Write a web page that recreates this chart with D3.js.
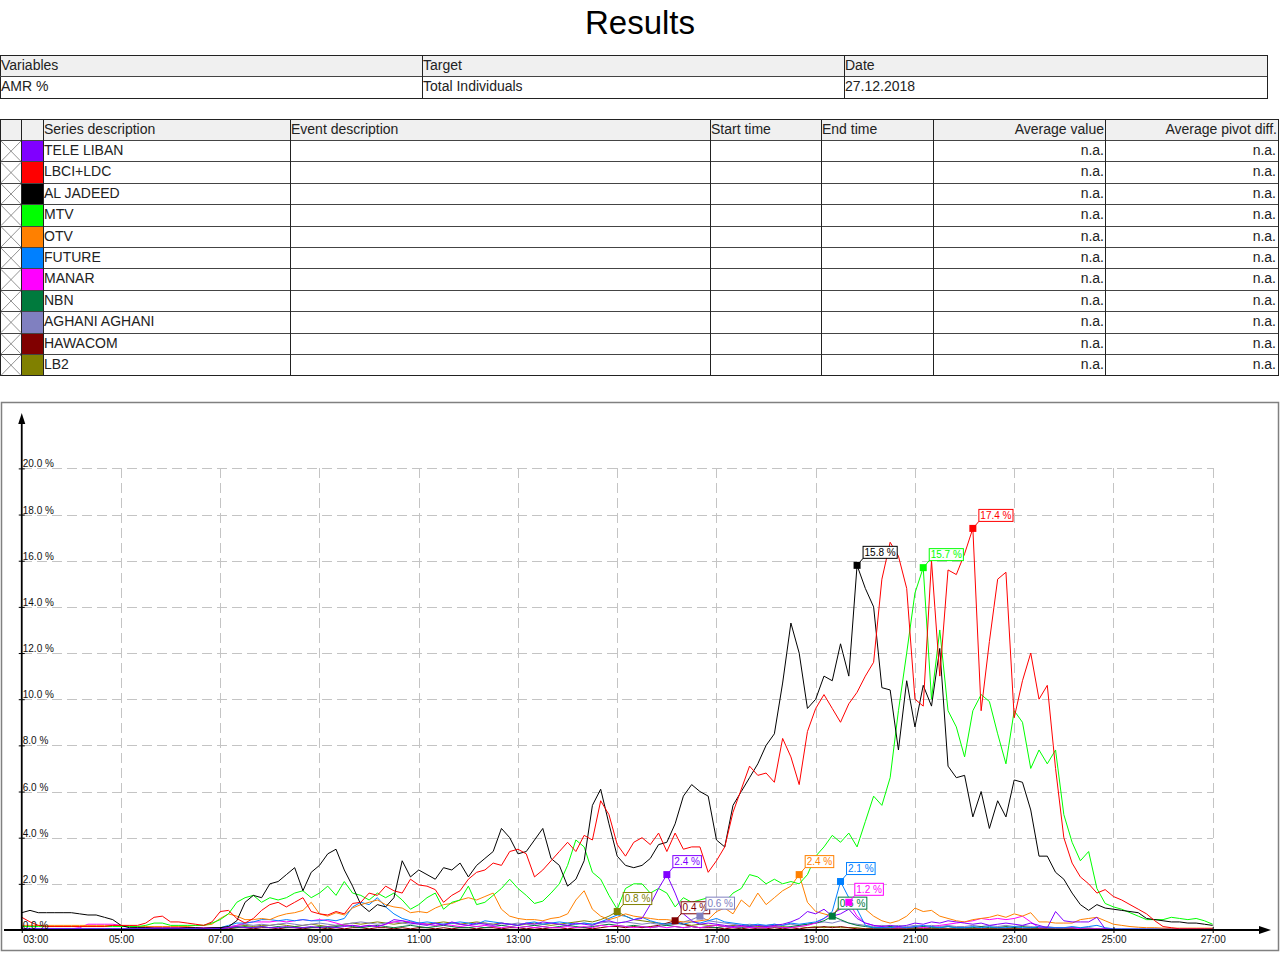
<!DOCTYPE html>
<html><head><meta charset="utf-8">
<script src="https://cdn.jsdelivr.net/npm/d3@7/dist/d3.min.js"></script>
<style>
html,body{margin:0;padding:0;background:#fff;}
svg{display:block;font-family:"Liberation Sans",Arial,sans-serif;}
</style></head><body>
<svg id="chart" width="1280" height="953"></svg>
<script>
// ---------------- DATA ----------------
const title = "Results";
const infoHeader = ["Variables", "Target", "Date"];
const infoRow = ["AMR %", "Total Individuals", "27.12.2018"];
const legendHeader = ["Series description", "Event description", "Start time", "End time", "Average value", "Average pivot diff."];
const seriesNames = ["TELE LIBAN", "LBCI+LDC", "AL JADEED", "MTV", "OTV", "FUTURE", "MANAR", "NBN", "AGHANI AGHANI", "HAWACOM", "LB2"];
const seriesColors = ["#8000ff", "#ff0000", "#000000", "#00ff00", "#ff8000", "#0080ff", "#ff00ff", "#007a3d", "#8080c0", "#800000", "#808000"];
const avgValue = ["n.a.", "n.a.", "n.a.", "n.a.", "n.a.", "n.a.", "n.a.", "n.a.", "n.a.", "n.a.", "n.a."];
const avgPivot = ["n.a.", "n.a.", "n.a.", "n.a.", "n.a.", "n.a.", "n.a.", "n.a.", "n.a.", "n.a.", "n.a."];

const xTickHours = [3, 5, 7, 9, 11, 13, 15, 17, 19, 21, 23, 25, 27];
const xTickLabels = ["03:00", "05:00", "07:00", "09:00", "11:00", "13:00", "15:00", "17:00", "19:00", "21:00", "23:00", "25:00", "27:00"];
const yTicks = [0, 2, 4, 6, 8, 10, 12, 14, 16, 18, 20];
const yTickLabels = ["0.0 %", "2.0 %", "4.0 %", "6.0 %", "8.0 %", "10.0 %", "12.0 %", "14.0 %", "16.0 %", "18.0 %", "20.0 %"];

// values every 10 minutes from 03:00 to 27:00 (AMR %)
const START_HOUR = 3, STEP_MIN = 10;

const teleLiban = [
 0.05,0.05,0.05,0.05,0.05,0.05, 0.05,0.05,0.05,0.05,0.05,0.05, 0.05,0.05,0.05,0.05,0.05,0.05, 0.05,0.05,0.05,0.05,0.05,0.05,
 0.05,0.1,0.15,0.1,0.1,0.15, 0.1,0.1,0.15,0.1,0.1,0.15, 0.1,0.15,0.1,0.15,0.2,0.15, 0.2,0.15,0.25,0.45,0.4,0.3,
 0.25,0.2,0.3,0.2,0.35,0.25, 0.2,0.3,0.25,0.2,0.3,0.25, 0.2,0.3,0.25,0.35,0.3,0.25, 0.2,0.3,0.25,0.2,0.35,0.4,
 0.3,0.35,0.45,0.5,1.1,1.8, 2.4,1.6,0.7,0.4,0.25,0.3, 0.25,0.2,0.15,0.2,0.15,0.2, 0.15,0.2,0.25,0.35,0.5,0.8,
 0.7,0.9,0.6,0.7,0.9,0.5, 0.3,0.2,0.15,0.2,0.15,0.2, 0.3,0.25,0.35,0.3,0.4,0.35, 0.3,0.25,0.3,0.2,0.25,0.3,
 0.25,0.2,0.3,0.2,0.1,0.8, 0.4,0.35,0.35,0.35,0.55,0.05, 0.03,0.03,0.03,0.03,0.03,0.03, 0.03,0.03,0.03,0.03,0.03,0.03,
 0.03];

const lbci = [
 0.55,0.35,0.2,0.15,0.15,0.15, 0.15,0.15,0.15,0.15,0.15,0.2, 0.2,0.2,0.2,0.3,0.55,0.6, 0.35,0.35,0.3,0.25,0.2,0.35,
 0.8,0.85,0.5,0.3,0.5,0.85, 1.1,1.2,1.0,1.2,1.4,0.8, 0.7,0.65,0.8,0.7,1.15,1.2, 1.6,1.5,1.9,1.7,1.6,2.2,
 1.95,1.9,1.75,1.2,1.5,1.7, 2.2,2.5,2.6,2.9,2.8,3.4, 3.5,3.3,2.3,2.6,3.0,3.4, 3.8,3.4,4.1,3.9,5.6,5.0,
 3.7,3.2,3.8,4.0,3.7,4.2, 3.4,4.2,3.5,3.6,3.6,2.5, 3.0,3.6,5.1,6.1,7.1,6.7, 6.8,6.4,8.3,7.5,6.3,8.6,
 9.6,10.2,9.6,9.0,9.8,10.3, 11.0,11.6,15.2,16.8,16.2,14.8, 10.0,9.7,16.0,11.0,15.6,15.4, 16.3,17.4,9.5,12.5,15.2,15.5,
 9.2,10.8,12.0,10.0,10.6,7.0, 4.0,2.9,2.3,2.0,1.6,1.75, 1.45,1.3,1.1,0.9,0.7,0.4, 0.15,0.1,0.05,0.05,0.05,0.05,
 0.05];

const alJadeed = [
 0.75,0.85,0.75,0.75,0.75,0.75, 0.75,0.7,0.65,0.65,0.55,0.45, 0.2,0.1,0.1,0.1,0.08,0.08, 0.08,0.08,0.1,0.1,0.08,0.1,
 0.1,0.15,0.4,1.2,1.5,1.4, 2.0,2.1,2.4,2.7,1.7,2.5, 2.8,3.3,3.5,2.6,1.9,1.1, 0.8,1.1,1.0,1.4,3.0,2.3,
 2.6,2.4,2.2,2.7,2.6,2.9, 2.3,2.8,3.1,3.4,4.4,4.0, 3.3,3.4,3.9,4.4,3.1,2.8, 1.9,2.2,3.0,5.4,6.1,4.6,
 3.2,2.8,2.7,2.8,3.1,3.7, 3.8,4.6,5.8,6.3,6.0,5.8, 3.9,3.6,5.4,6.0,6.6,7.2, 8.0,8.5,10.7,13.3,12.0,9.6,
 10.0,11.0,10.8,12.4,11.0,15.8, 14.8,14.0,10.5,10.4,7.8,10.8, 8.8,10.6,9.7,12.2,7.1,6.6, 6.7,4.9,6.0,4.4,5.6,4.9,
 6.5,6.4,5.2,3.2,3.2,2.5, 2.2,1.6,1.1,0.85,1.1,0.95, 0.9,0.85,0.8,0.75,0.5,0.45, 0.4,0.35,0.35,0.3,0.3,0.25,
 0.2];

const mtv = [
 0.15,0.15,0.15,0.15,0.15,0.15, 0.15,0.15,0.15,0.15,0.15,0.15, 0.15,0.15,0.15,0.2,0.3,0.3, 0.2,0.2,0.2,0.2,0.2,0.3,
 0.45,0.7,1.2,1.4,1.5,1.2, 1.4,1.3,1.4,1.6,1.7,1.4, 1.6,1.9,1.5,2.1,1.6,1.5, 1.3,1.6,1.4,1.6,1.3,0.9,
 1.1,1.4,1.6,0.9,1.2,1.3, 1.9,1.1,1.2,1.5,1.8,2.2, 1.8,1.5,1.15,1.25,1.6,2.0, 2.8,3.9,3.6,2.5,2.2,1.5,
 0.9,1.8,2.0,2.0,1.6,1.8, 1.6,1.0,1.4,1.2,1.3,1.4, 1.3,1.2,1.6,1.8,2.4,2.3, 2.0,2.2,2.0,2.1,2.0,2.4,
 3.2,3.6,4.1,3.8,4.2,3.6, 4.7,5.8,5.4,6.6,9.5,12.0, 14.6,15.7,10.0,13.0,9.5,8.8, 7.5,9.5,10.2,9.9,8.5,7.2,
 9.5,9.0,7.0,7.8,7.2,7.8, 5.0,3.8,3.0,3.4,1.8,1.15, 1.0,0.9,0.75,0.6,0.45,0.45, 0.45,0.55,0.5,0.45,0.5,0.4,
 0.25];

const otv = [
 0.2,0.2,0.2,0.2,0.2,0.2, 0.2,0.2,0.2,0.2,0.2,0.2, 0.18,0.18,0.15,0.15,0.15,0.15, 0.15,0.15,0.15,0.2,0.2,0.25,
 0.5,0.7,0.6,0.45,0.45,0.5, 0.45,0.6,0.7,0.75,0.85,1.2, 0.7,0.6,0.75,0.65,0.95,1.1, 1.2,1.3,1.1,1.0,0.95,0.75,
 0.8,0.75,0.95,1.1,1.15,1.3, 1.4,1.3,1.45,1.6,0.9,0.6, 0.5,0.45,0.45,0.4,0.5,0.55, 0.7,1.3,1.7,0.9,0.6,0.45,
 0.55,0.7,0.6,0.55,0.5,0.45, 0.45,0.4,0.35,0.35,0.4,0.45, 0.8,0.95,0.7,1.3,1.0,1.6, 1.1,1.4,1.7,1.9,2.4,1.2,
 0.8,0.7,0.6,1.1,1.1,1.3, 0.9,0.6,0.4,0.3,0.4,0.6, 0.95,0.8,0.85,0.6,0.5,0.4, 0.35,0.45,0.5,0.55,0.65,0.55,
 0.7,0.6,0.75,0.35,0.35,0.3, 0.3,0.3,0.45,0.5,0.55,0.4, 0.25,0.2,0.15,0.12,0.1,0.1, 0.08,0.08,0.08,0.08,0.08,0.08,
 0.08];

const future = [
 0.05,0.05,0.05,0.05,0.05,0.05, 0.05,0.05,0.05,0.05,0.05,0.05, 0.05,0.05,0.05,0.05,0.05,0.05, 0.05,0.05,0.05,0.05,0.05,0.05,
 0.1,0.2,0.3,0.3,0.35,0.45, 0.45,0.4,0.45,0.4,0.45,0.4, 0.4,0.45,0.4,0.5,1.0,1.2, 1.1,1.4,1.0,0.7,0.5,0.4,
 0.3,0.35,0.3,0.25,0.3,0.35, 0.3,0.25,0.4,0.35,0.3,0.25, 0.2,0.3,0.35,0.25,0.3,0.35, 0.3,0.25,0.3,0.25,0.35,0.5,
 0.65,0.6,0.45,0.55,0.4,0.3, 0.25,0.3,0.25,0.35,0.3,0.4, 0.5,0.35,0.3,0.25,0.2,0.25, 0.2,0.25,0.2,0.3,0.25,0.3,
 0.35,0.5,0.8,2.1,1.4,0.9, 0.2,0.1,0.1,0.1,0.15,0.1, 0.15,0.2,0.15,0.1,0.15,0.1, 0.1,0.15,0.1,0.15,0.1,0.1,
 0.15,0.1,0.1,0.15,0.1,0.1, 0.1,0.15,0.1,0.15,0.2,0.1, 0.05,0.05,0.05,0.05,0.05,0.05, 0.05,0.05,0.05,0.05,0.05,0.05,
 0.05];

const manar = [
 0.05,0.05,0.05,0.05,0.05,0.05, 0.05,0.1,0.25,0.25,0.25,0.25, 0.2,0.15,0.1,0.1,0.1,0.1, 0.1,0.1,0.1,0.1,0.1,0.1,
 0.1,0.1,0.2,0.3,0.35,0.35, 0.35,0.4,0.35,0.4,0.45,0.4, 0.45,0.4,0.3,0.2,0.2,0.15, 0.2,0.15,0.25,0.35,0.4,0.35,
 0.3,0.25,0.2,0.25,0.2,0.15, 0.2,0.15,0.2,0.15,0.1,0.15, 0.1,0.15,0.1,0.15,0.1,0.1, 0.15,0.1,0.15,0.1,0.2,0.15,
 0.2,0.15,0.1,0.15,0.1,0.15, 0.1,0.15,0.1,0.15,0.1,0.15, 0.2,0.15,0.1,0.15,0.1,0.1, 0.1,0.15,0.1,0.1,0.15,0.2,
 0.3,0.5,0.7,0.9,1.2,0.6, 0.3,0.2,0.15,0.1,0.1,0.1, 0.15,0.1,0.15,0.2,0.25,0.3, 0.35,0.4,0.5,0.45,0.5,0.45,
 0.5,0.6,0.35,0.1,0.1,0.1, 0.1,0.1,0.05,0.05,0.05,0.05, 0.03,0.03,0.03,0.03,0.03,0.03, 0.03,0.03,0.03,0.03,0.03,0.03,
 0.03];

const nbn = [
 0.03,0.03,0.03,0.03,0.03,0.03, 0.03,0.03,0.03,0.03,0.03,0.03, 0.03,0.03,0.03,0.03,0.03,0.03, 0.03,0.03,0.03,0.03,0.03,0.03,
 0.05,0.1,0.1,0.15,0.1,0.15, 0.1,0.15,0.1,0.15,0.1,0.1, 0.15,0.1,0.15,0.2,0.15,0.1, 0.15,0.2,0.15,0.1,0.15,0.2,
 0.15,0.1,0.15,0.2,0.15,0.1, 0.1,0.15,0.1,0.15,0.2,0.15, 0.1,0.15,0.2,0.15,0.1,0.15, 0.2,0.15,0.1,0.15,0.2,0.25,
 0.2,0.15,0.2,0.15,0.1,0.15, 0.2,0.15,0.1,0.15,0.1,0.15, 0.1,0.15,0.1,0.1,0.15,0.1, 0.1,0.15,0.1,0.15,0.2,0.25,
 0.3,0.4,0.6,0.45,0.3,0.2, 0.15,0.1,0.1,0.15,0.1,0.1, 0.1,0.15,0.1,0.1,0.15,0.1, 0.1,0.1,0.15,0.1,0.1,0.15,
 0.1,0.15,0.1,0.1,0.1,0.1, 0.1,0.1,0.05,0.05,0.05,0.05, 0.02,0.02,0.02,0.02,0.02,0.02, 0.02,0.02,0.02,0.02,0.02,0.02,
 0.02];

const aghani = [
 0.05,0.05,0.05,0.05,0.05,0.05, 0.05,0.05,0.05,0.05,0.05,0.05, 0.05,0.05,0.05,0.05,0.05,0.05, 0.05,0.05,0.05,0.05,0.05,0.05,
 0.1,0.15,0.2,0.25,0.2,0.25, 0.2,0.25,0.3,0.25,0.2,0.25, 0.3,0.25,0.2,0.25,0.3,0.35, 0.3,0.25,0.3,0.35,0.3,0.25,
 0.3,0.25,0.2,0.25,0.3,0.25, 0.2,0.25,0.3,0.25,0.2,0.25, 0.3,0.25,0.2,0.25,0.3,0.25, 0.2,0.25,0.3,0.25,0.3,0.35,
 0.3,0.35,0.3,0.25,0.3,0.25, 0.2,0.25,0.35,0.45,0.6,0.4, 0.35,0.3,0.25,0.2,0.25,0.2, 0.2,0.25,0.2,0.25,0.2,0.25,
 0.3,0.35,0.3,0.4,0.3,0.25, 0.2,0.15,0.2,0.15,0.2,0.15, 0.2,0.15,0.2,0.15,0.2,0.15, 0.15,0.2,0.15,0.2,0.15,0.2,
 0.15,0.2,0.15,0.1,0.15,0.1, 0.1,0.1,0.1,0.1,0.05,0.05, 0.03,0.03,0.03,0.03,0.03,0.03, 0.03,0.03,0.03,0.03,0.03,0.03,
 0.03];

const hawacom = [
 0.02,0.02,0.02,0.02,0.02,0.02, 0.02,0.02,0.02,0.02,0.02,0.02, 0.02,0.02,0.02,0.02,0.02,0.02, 0.02,0.02,0.02,0.02,0.02,0.02,
 0.05,0.05,0.1,0.1,0.05,0.1, 0.1,0.05,0.1,0.1,0.05,0.1, 0.1,0.05,0.1,0.05,0.1,0.1, 0.05,0.1,0.1,0.05,0.1,0.05,
 0.1,0.1,0.05,0.1,0.05,0.1, 0.1,0.05,0.1,0.1,0.05,0.1, 0.1,0.05,0.1,0.05,0.1,0.1, 0.05,0.1,0.1,0.05,0.1,0.15,
 0.15,0.1,0.15,0.1,0.15,0.2, 0.3,0.4,0.25,0.15,0.1,0.1, 0.1,0.05,0.1,0.05,0.1,0.05, 0.05,0.1,0.05,0.1,0.05,0.1,
 0.1,0.15,0.1,0.15,0.1,0.05, 0.05,0.05,0.05,0.05,0.05,0.05, 0.05,0.05,0.05,0.05,0.05,0.05, 0.05,0.05,0.05,0.05,0.05,0.05,
 0.05,0.05,0.05,0.05,0.05,0.05, 0.05,0.05,0.05,0.05,0.05,0.05, 0.02,0.02,0.02,0.02,0.02,0.02, 0.02,0.02,0.02,0.02,0.02,0.02,
 0.02];

const lb2 = [
 0.03,0.03,0.03,0.03,0.03,0.03, 0.03,0.03,0.03,0.03,0.03,0.03, 0.03,0.03,0.03,0.03,0.03,0.03, 0.03,0.03,0.03,0.03,0.03,0.03,
 0.05,0.1,0.15,0.2,0.15,0.2, 0.2,0.25,0.2,0.15,0.2,0.25, 0.2,0.15,0.2,0.25,0.3,0.25, 0.3,0.35,0.3,0.25,0.3,0.35,
 0.3,0.25,0.3,0.35,0.3,0.25, 0.3,0.35,0.3,0.25,0.3,0.25, 0.2,0.25,0.3,0.25,0.2,0.25, 0.3,0.35,0.4,0.35,0.45,0.6,
 0.8,0.6,0.45,0.4,0.35,0.3, 0.25,0.3,0.25,0.2,0.25,0.2, 0.2,0.15,0.2,0.15,0.2,0.15, 0.15,0.2,0.15,0.1,0.15,0.1,
 0.15,0.1,0.15,0.1,0.1,0.1, 0.05,0.05,0.05,0.05,0.05,0.05, 0.05,0.05,0.05,0.05,0.05,0.05, 0.05,0.05,0.05,0.05,0.05,0.05,
 0.05,0.05,0.05,0.05,0.05,0.05, 0.05,0.05,0.05,0.05,0.05,0.05, 0.02,0.02,0.02,0.02,0.02,0.02, 0.02,0.02,0.02,0.02,0.02,0.02,
 0.02];

const seriesValues = [teleLiban, lbci, alJadeed, mtv, otv, future, manar, nbn, aghani, hawacom, lb2];

// ---------------- DRAW ----------------
const svg = d3.select("#chart");
const FONT = 14;

svg.append("text").attr("x", 640).attr("y", 34).attr("text-anchor", "middle")
  .attr("font-size", 33).attr("fill", "#000").text(title);

// ---- info table ----
(function () {
  const top = 55, mid = 76, bot = 98, cols = [0, 422, 844, 1267];
  const g = svg.append("g").attr("shape-rendering", "crispEdges");
  g.append("rect").attr("x", 0.5).attr("y", top + 0.5).attr("width", cols[3] - 0.5).attr("height", mid - top).attr("fill", "#f0f0f0");
  g.append("rect").attr("x", 0.5).attr("y", top + 0.5).attr("width", cols[3] - 0.5).attr("height", bot - top).attr("fill", "none").attr("stroke", "#222");
  g.append("line").attr("x1", 0).attr("x2", cols[3]).attr("y1", mid + 0.5).attr("y2", mid + 0.5).attr("stroke", "#444");
  g.selectAll("line.c").data(cols.slice(1, 3)).join("line").attr("class", "c")
    .attr("x1", d => d + 0.5).attr("x2", d => d + 0.5).attr("y1", top).attr("y2", bot).attr("stroke", "#222");
  svg.selectAll("text.ih").data(infoHeader).join("text").attr("class", "ih")
    .attr("x", (d, i) => cols[i] + 1).attr("y", top + 15).attr("font-size", FONT).attr("fill", "#222").text(d => d);
  svg.selectAll("text.ir").data(infoRow).join("text").attr("class", "ir")
    .attr("x", (d, i) => cols[i] + 1).attr("y", mid + 15).attr("font-size", FONT).attr("fill", "#222").text(d => d);
})();

// ---- legend table ----
(function () {
  const top = 119, head = 140, rowH = 21.4, right = 1278;
  const cols = [0, 21, 43, 290, 710, 821, 933, 1105, right];
  const n = seriesNames.length;
  const bot = head + n * rowH;
  const g = svg.append("g").attr("shape-rendering", "crispEdges");
  g.append("rect").attr("x", 0.5).attr("y", top + 0.5).attr("width", right - 0.5).attr("height", head - top).attr("fill", "#f0f0f0");
  // swatches
  g.selectAll("rect.sw").data(seriesColors).join("rect").attr("class", "sw")
    .attr("x", cols[1] + 1).attr("y", (d, i) => head + i * rowH + 1).attr("width", cols[2] - cols[1] - 1)
    .attr("height", rowH - 1).attr("fill", d => d);
  // crosses
  const gx = svg.append("g").attr("stroke", "#777").attr("stroke-width", 0.8);
  seriesNames.forEach((s, i) => {
    const y0 = head + i * rowH, y1 = y0 + rowH;
    gx.append("line").attr("x1", 1).attr("y1", y0 + 1).attr("x2", cols[1]).attr("y2", y1);
    gx.append("line").attr("x1", 1).attr("y1", y1).attr("x2", cols[1]).attr("y2", y0 + 1);
  });
  // row lines
  g.selectAll("line.r").data(d3.range(n)).join("line").attr("class", "r")
    .attr("x1", 0).attr("x2", right).attr("y1", i => Math.round(head + i * rowH) + 0.5).attr("y2", i => Math.round(head + i * rowH) + 0.5)
    .attr("stroke", "#444");
  g.selectAll("line.c").data(cols.slice(1, -1)).join("line").attr("class", "c")
    .attr("x1", d => d + 0.5).attr("x2", d => d + 0.5).attr("y1", top).attr("y2", bot).attr("stroke", "#222");
  g.append("rect").attr("x", 0.5).attr("y", top + 0.5).attr("width", right - 0.5).attr("height", bot - top).attr("fill", "none").attr("stroke", "#222");
  // header texts
  const hx = [cols[2] + 1, cols[3] + 1, cols[4] + 1, cols[5] + 1, cols[7] - 1, cols[8] - 1];
  const ha = ["start", "start", "start", "start", "end", "end"];
  svg.selectAll("text.lh").data(legendHeader).join("text").attr("class", "lh")
    .attr("x", (d, i) => hx[i]).attr("y", top + 15).attr("text-anchor", (d, i) => ha[i])
    .attr("font-size", FONT).attr("fill", "#222").text(d => d);
  svg.selectAll("text.sn").data(seriesNames).join("text").attr("class", "sn")
    .attr("x", cols[2] + 1).attr("y", (d, i) => head + i * rowH + 15).attr("font-size", FONT).attr("fill", "#222").text(d => d);
  svg.selectAll("text.av").data(avgValue).join("text").attr("class", "av")
    .attr("x", cols[7] - 1).attr("y", (d, i) => head + i * rowH + 15).attr("text-anchor", "end").attr("font-size", FONT).attr("fill", "#222").text(d => d);
  svg.selectAll("text.ap").data(avgPivot).join("text").attr("class", "ap")
    .attr("x", cols[8] - 2).attr("y", (d, i) => head + i * rowH + 15).attr("text-anchor", "end").attr("font-size", FONT).attr("fill", "#222").text(d => d);
})();

// ---- chart panel ----
svg.append("rect").attr("x", 1.5).attr("y", 402.5).attr("width", 1277).attr("height", 548)
  .attr("fill", "none").attr("stroke", "#808080").attr("stroke-width", 1.5);

const x = d3.scaleLinear().domain([3, 27]).range([21.75, 1212.7]);
const y = d3.scaleLinear().domain([0, 20]).range([930, 468.4]);
const tOf = i => START_HOUR + i * STEP_MIN / 60;

// grid
const grid = svg.append("g").attr("stroke", "#c4c4c4").attr("stroke-width", 1).attr("stroke-dasharray", "10,5").attr("shape-rendering", "crispEdges");
grid.selectAll("line.h").data(yTicks.slice(1)).join("line").attr("class", "h")
  .attr("x1", x(3)).attr("x2", x(27)).attr("y1", d => Math.round(y(d)) + 0.5).attr("y2", d => Math.round(y(d)) + 0.5);
grid.selectAll("line.v").data(xTickHours.slice(1)).join("line").attr("class", "v")
  .attr("x1", d => Math.round(x(d)) + 0.5).attr("x2", d => Math.round(x(d)) + 0.5).attr("y1", y(20)).attr("y2", y(0));

// lines (drawn last series first)
const line = d3.line().x((d, i) => x(tOf(i))).y(d => y(d));
const order = d3.range(seriesValues.length).reverse();
svg.append("g").selectAll("path").data(order).join("path")
  .attr("d", k => line(seriesValues[k])).attr("fill", "none")
  .attr("stroke", k => seriesColors[k]).attr("stroke-width", 1).attr("stroke-linejoin", "round");

// axes
const xAxis = d3.axisBottom(x).tickValues(xTickHours).tickFormat((d, i) => xTickLabels[i]).tickSize(3).tickPadding(3);
const gxA = svg.append("g").attr("transform", `translate(0,${y(0)})`).call(xAxis);
gxA.select(".domain").remove();
gxA.selectAll(".tick line").attr("y1", -3).attr("stroke", "#000");
gxA.selectAll(".tick text").attr("font-size", 10).attr("font-family", "Liberation Sans, Arial, sans-serif").attr("fill", "#111");
gxA.selectAll(".tick text").filter((d, i) => i === 0).attr("text-anchor", "start").attr("x", 1);

const yAxis = d3.axisRight(y).tickValues(yTicks).tickFormat((d, i) => yTickLabels[i]).tickSize(3);
const gyA = svg.append("g").attr("transform", `translate(${x(3)},0)`).call(yAxis);
gyA.select(".domain").remove();
gyA.selectAll(".tick line").attr("x1", -3).attr("stroke", "#000");
gyA.selectAll(".tick text").attr("x", 1).attr("dy", "-0.15em").attr("font-size", 10)
  .attr("font-family", "Liberation Sans, Arial, sans-serif").attr("fill", "#111");

// axis lines with arrows
svg.append("line").attr("x1", 4).attr("x2", 1262).attr("y1", y(0)).attr("y2", y(0)).attr("stroke", "#000").attr("stroke-width", 1.8);
svg.append("path").attr("d", `M1271,${y(0)} L1259,${y(0) - 4} L1259,${y(0) + 4} Z`).attr("fill", "#000");
svg.append("line").attr("x1", x(3)).attr("x2", x(3)).attr("y1", y(0) + 1).attr("y2", 422).attr("stroke", "#000").attr("stroke-width", 1.8);
svg.append("path").attr("d", `M${x(3)},413 L${x(3) - 3.5},424 L${x(3) + 3.5},424 Z`).attr("fill", "#000");

// peak markers with labels
const fmt = d3.format(".1f");
const mk = svg.append("g");
order.forEach(k => {
  const vals = seriesValues[k];
  const idx = d3.maxIndex(vals);
  const mx = x(tOf(idx)), my = y(vals[idx]);
  const col = seriesColors[k];
  const g = mk.append("g");
  const bx = mx + 6, bb = my - 7;
  g.append("line").attr("x1", mx).attr("y1", my).attr("x2", bx).attr("y2", bb).attr("stroke", col).attr("stroke-width", 1);
  const box = g.append("rect").attr("fill", "#fff").attr("stroke", col).attr("stroke-width", 1);
  const txt = g.append("text").attr("x", bx + 1.5).attr("y", bb - 2.5).attr("font-size", 10).attr("fill", col)
    .text(fmt(vals[idx]) + " %");
  const tw = txt.node().getComputedTextLength();
  box.attr("x", bx).attr("y", bb - 12).attr("width", tw + 3).attr("height", 12);
  g.append("rect").attr("x", mx - 3.5).attr("y", my - 3.5).attr("width", 7).attr("height", 7).attr("fill", col);
});
</script></body></html>
